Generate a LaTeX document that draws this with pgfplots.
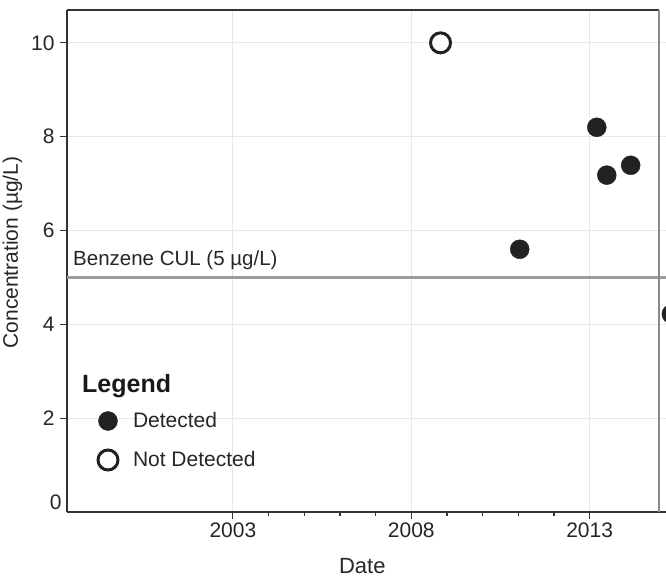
\documentclass[border=0pt]{standalone}
\usepackage{pgfplots}
\pgfplotsset{compat=1.18}
\usepackage{fontspec}
\setmainfont{Liberation Sans}
\definecolor{txt}{HTML}{262626}
\definecolor{dot}{HTML}{222222}
\definecolor{gridc}{HTML}{E8E8E8}
\definecolor{cul}{HTML}{9C9C9C}
\definecolor{edge}{HTML}{8A8A8A}
\begin{document}
\begin{tikzpicture}
\begin{axis}[
  scale only axis, width=599pt, height=502pt,
  xmin=1998.35, xmax=2015.14, ymin=0, ymax=10.7,
  axis lines*=left,
  axis line style={line width=1.6pt, color=black!80},
  xtick={2003,2008,2013}, minor x tick num=4,
  ytick={2,4,6,8,10},
  extra y ticks={0},
  extra y tick style={grid=none, major tick length=0pt, yticklabel style={yshift=10pt}},
  /pgf/number format/1000 sep={},
  /pgf/number format/assume math mode=true,
  tick align=outside, major tick length=7pt, minor tick length=4pt,
  tick style={line width=1.2pt, color=black!80},
  xmajorgrids, ymajorgrids,
  major grid style={line width=0.8pt, color=gridc},
  clip=false,
  ticklabel style={font=\fontsize{21}{25}\selectfont, color=txt},
  yticklabel style={xshift=-2pt},
  xlabel={Date}, ylabel={Concentration (µg/L)},
  xlabel style={font=\fontsize{22}{26}\selectfont, color=txt, at={(rel axis cs:0.493,0)}, anchor=base, yshift=-61pt},
  ylabel style={font=\fontsize{21}{25}\selectfont, color=txt, at={(rel axis cs:0,0.517)}, anchor=base, yshift=49pt},
  legend cell align=left,
  legend image code/.code={\path[draw=none, fill=none] (-12pt,-12pt) rectangle (12pt,12pt); \draw[#1] plot coordinates {(0pt,0pt)};},
  legend style={at={(rel axis cs:0,0)}, anchor=south west, xshift=29pt, yshift=40pt,
    draw=none, fill=none, inner sep=0pt, outer sep=0pt, row sep=15pt, column sep=13pt,
    font=\fontsize{21}{25}\selectfont, text=txt, nodes={inner sep=0pt}},
]
\coordinate (bl) at (rel axis cs:0,0);
\coordinate (tr) at (rel axis cs:1,1);
\addplot[cul, line width=3.5pt, forget plot] coordinates {(1998.35,5) (2015.14,5)};
\addplot[only marks, mark=*, mark size=9.5pt, color=dot] coordinates {
  (2011.04,5.6) (2013.20,8.2) (2013.48,7.18) (2014.15,7.39) (2015.29,4.22)};
\addlegendentry{Detected}
\addplot[only marks, mark=*, mark size=10pt, mark options={line width=3pt, draw=dot, fill=white}] coordinates {
  (2008.82,10.0)};
\addlegendentry{Not Detected}
\draw[black!80, line width=1.6pt] (rel axis cs:0,1) -- (axis cs:2014.95,10.7);
\draw[edge, line width=2.5pt] (axis cs:2014.95,0) -- (axis cs:2014.95,10.7);
\node[anchor=south west, inner sep=0pt, font=\fontsize{20.5}{24}\selectfont, text=txt] at (axis cs:1998.35,5.15) {\hspace{6pt}Benzene CUL (5 µg/L)};
\node[anchor=base west, inner sep=0pt, font=\fontsize{25}{30}\selectfont\bfseries, text=black!90] at (axis cs:1998.35,2.55) {\hspace{15pt}Legend};
\end{axis}
\pgfresetboundingbox
\path ([xshift=-67pt,yshift=-66pt]bl) rectangle ([yshift=10pt]tr);
\end{tikzpicture}
\end{document}
